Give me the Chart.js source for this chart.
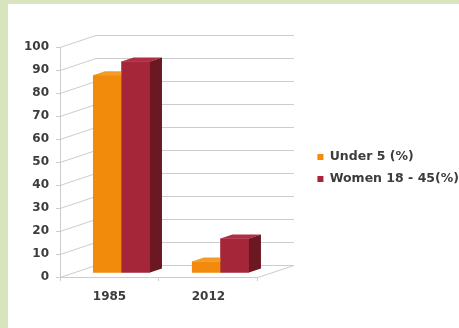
<!DOCTYPE html>
<html><head><meta charset="utf-8">
<script src="https://cdn.jsdelivr.net/npm/chart.js@4"></script>
<style>html,body{margin:0;padding:0;background:#fff}#wrap{width:459px;height:328px;position:relative}</style>
</head><body><div id="wrap"><canvas id="c" width="459" height="328"></canvas></div>
<script>
const categories = ['1985', '2012'];
const seriesNames = ['Under 5 (%)', 'Women 18 - 45(%)'];
const under5Values = [86, 5];
const womenValues = [92, 15];
const yMin = 0, yMax = 100, yStep = 10;

const FRONT = ['#f28a0b', '#a52539'];
const TOP = ['#f29a2a', '#b02e44'];
const SIDE = ['#c46d05', '#6c1823'];
const GRID = '#cccccc';
const TEXT = '#3c3c3c';
const BAR_OFF = {dx: 12, dy: -4};
const BAR_DEPTH = {dx: 12, dy: -4};
const BACK = {dx: 36, dy: -12};
const FONT = {family: 'DejaVu Sans', size: 12, weight: 'bold'};
const LEGEND_FONT = {family: 'DejaVu Sans', size: 12.5, weight: 'bold'};

const threeD = {
  id: 'threeD',
  beforeDraw(chart) {
    const {ctx, width, height} = chart;
    ctx.save();
    ctx.fillStyle = '#ffffff'; ctx.fillRect(0, 0, width, height);
    ctx.fillStyle = '#d8e4bd';
    ctx.fillRect(0, 0, width, 4); ctx.fillRect(0, 0, 8, height);
    ctx.restore();
  },
  beforeDatasetsDraw(chart) {
    const {ctx, chartArea: a, scales: {y}} = chart;
    ctx.save();
    ctx.strokeStyle = GRID; ctx.lineWidth = 1;
    ctx.beginPath();
    y.ticks.forEach(t => {
      const py = Math.round(y.getPixelForValue(t.value)) + 0.5;
      ctx.moveTo(a.left, py);
      ctx.lineTo(a.left + BACK.dx, py + BACK.dy);
      ctx.lineTo(a.right + BACK.dx, py + BACK.dy);
    });
    const fb = Math.round(a.bottom) + 0.5;
    ctx.moveTo(a.right, fb); ctx.lineTo(a.right + BACK.dx, fb + BACK.dy);
    ctx.stroke();
    ctx.restore();
    ctx.save();
    ctx.translate(BAR_OFF.dx, BAR_OFF.dy);
  },
  afterDatasetsDraw(chart) {
    const ctx = chart.ctx;
    const dx = BAR_DEPTH.dx, dy = BAR_DEPTH.dy;
    chart.data.datasets.forEach((ds, di) => {
      const meta = chart.getDatasetMeta(di);
      meta.data.forEach(bar => {
        const {x, y, base, width} = bar.getProps(['x', 'y', 'base', 'width'], true);
        const l = x - width / 2, r = x + width / 2;
        ctx.fillStyle = FRONT[di];
        ctx.fillRect(l, y, width, base - y);
        ctx.fillStyle = TOP[di];
        ctx.beginPath();
        ctx.moveTo(l, y); ctx.lineTo(r, y); ctx.lineTo(r + dx, y + dy); ctx.lineTo(l + dx, y + dy);
        ctx.closePath(); ctx.fill();
        ctx.fillStyle = SIDE[di];
        ctx.beginPath();
        ctx.moveTo(r, y); ctx.lineTo(r + dx, y + dy); ctx.lineTo(r + dx, base + dy); ctx.lineTo(r, base);
        ctx.closePath(); ctx.fill();
      });
    });
    ctx.restore();
  }
};

new Chart(document.getElementById('c'), {
  type: 'bar',
  data: {
    labels: categories,
    datasets: [
      {label: seriesNames[0], data: under5Values, backgroundColor: FRONT[0], borderWidth: 0, categoryPercentage: 0.576, barPercentage: 1, clip: false},
      {label: seriesNames[1], data: womenValues, backgroundColor: FRONT[1], borderWidth: 0, categoryPercentage: 0.576, barPercentage: 1, clip: false}
    ]
  },
  options: {
    responsive: false,
    animation: false,
    devicePixelRatio: 1,
    layout: {padding: {top: 8, left: 0, right: -10, bottom: 0}},
    plugins: {
      tooltip: {enabled: false},
      legend: {
        position: 'right', align: 'center', maxWidth: 240,
        labels: {boxWidth: 6, boxHeight: 6, padding: 9.5, color: TEXT, font: LEGEND_FONT}
      }
    },
    scales: {
      x: {
        position: 'bottom',
        grid: {display: true, drawOnChartArea: false, drawTicks: true, tickLength: 4, color: GRID, offset: true},
        border: {display: true, color: GRID},
        ticks: {color: TEXT, font: FONT, padding: 9, maxRotation: 0},
        afterFit(s) { s.height = 51; }
      },
      xTop: {
        type: 'category', position: 'top', labels: categories, display: true,
        grid: {display: false}, border: {display: false}, ticks: {display: false},
        afterFit(s) { s.height = 39; }
      },
      y: {
        min: yMin, max: yMax,
        ticks: {stepSize: yStep, padding: 7, color: TEXT, font: FONT},
        grid: {drawOnChartArea: false, drawTicks: true, tickLength: 4, color: GRID},
        border: {display: true, color: GRID},
        afterFit(s) { s.width = 60; }
      },
      yRight: {
        type: 'linear', position: 'right', display: true,
        grid: {display: false}, border: {display: false}, ticks: {display: false},
        afterFit(s) { s.width = 50; }
      }
    }
  },
  plugins: [threeD]
});
</script></body></html>
